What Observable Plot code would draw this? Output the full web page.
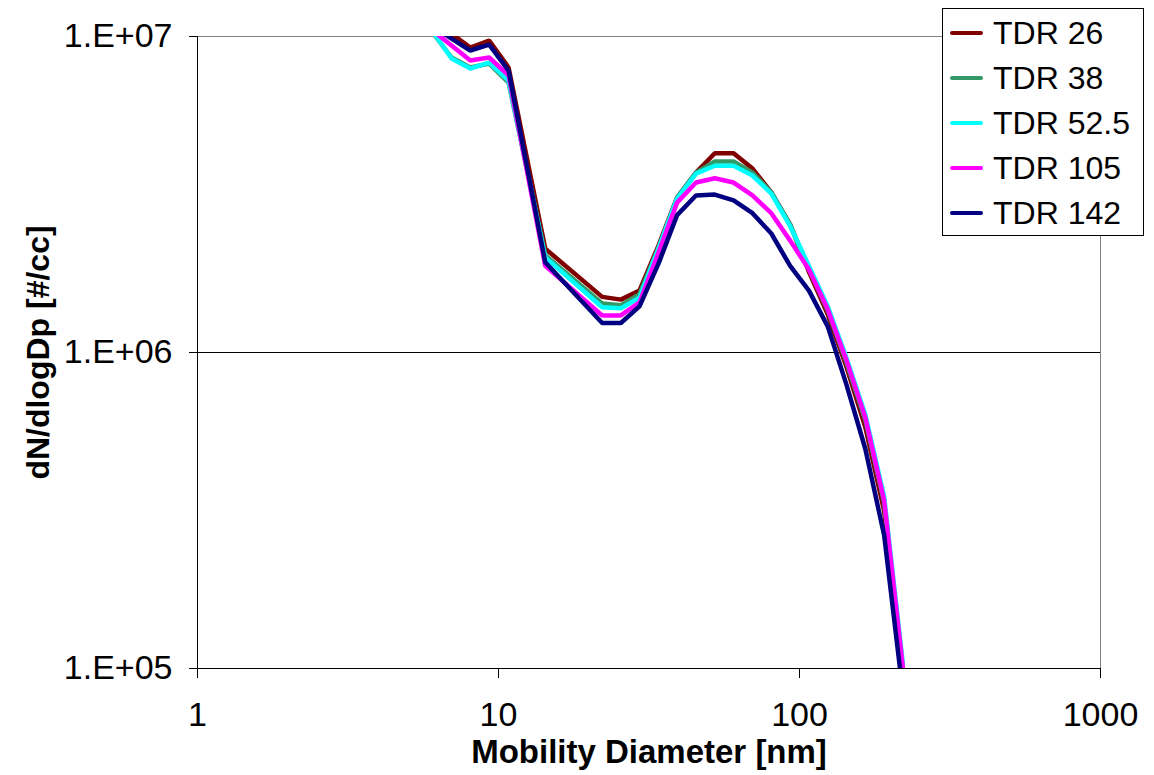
<!DOCTYPE html>
<html>
<head>
<meta charset="utf-8">
<script src="https://cdn.jsdelivr.net/npm/d3@7"></script>
<script src="https://cdn.jsdelivr.net/npm/@observablehq/plot@0.6"></script>
<style>
  body { margin: 0; background: #fff; font-family: "Liberation Sans", Arial, sans-serif; }
  #wrap { position: relative; width: 1154px; height: 775px; overflow: hidden; }
  #legend { position: absolute; left: 942px; top: 8px; width: 202px; height: 228px; border: 1px solid #000; background: #fff; box-sizing: border-box; }
  .row { position: absolute; left: 0; height: 40px; display: flex; align-items: center; }
  .sw { width: 33px; height: 4px; margin-left: 7px; margin-right: 10px; border-radius: 2px; }
  .lab { font-size: 32px; color: #000; white-space: nowrap; line-height: 40px; }
</style>
</head>
<body>
<div id="wrap"></div>
<script>
// Mobility diameter (nm)
const diameters = [6.04, 6.98, 8.06, 9.31, 10.8, 14.3, 22.1, 25.5, 29.4, 34.0, 39.2, 45.3, 52.3, 60.4, 69.8, 80.6, 93.1, 107.5, 124.1, 143.3, 165.5, 191.1, 220.7];

// dN/dlogDp [#/cc] per series
const tdr26  = [1.12e7, 1.02e7, 9.23e6, 9.71e6, 7.98e6, 2.13e6, 1.50e6, 1.47e6, 1.57e6, 2.18e6, 3.09e6, 3.71e6, 4.27e6, 4.27e6, 3.82e6, 3.21e6, 2.54e6, 1.80e6, 1.32e6, 9.0e5, 5.8e5, 3.15e5, 9.5e4];
const tdr38  = [1.03e7, 8.58e6, 7.98e6, 8.21e6, 7.15e6, 2.03e6, 1.43e6, 1.41e6, 1.53e6, 2.15e6, 3.09e6, 3.71e6, 4.02e6, 4.02e6, 3.71e6, 3.21e6, 2.54e6, 1.84e6, 1.36e6, 9.3e5, 6.1e5, 3.35e5, 9.8e4];
const tdr525 = [1.04e7, 8.52e6, 7.92e6, 8.27e6, 7.25e6, 2.00e6, 1.39e6, 1.38e6, 1.49e6, 2.13e6, 3.07e6, 3.68e6, 3.90e6, 3.90e6, 3.63e6, 3.18e6, 2.51e6, 1.88e6, 1.40e6, 9.6e5, 6.35e5, 3.50e5, 1.03e5];
const tdr105 = [1.045e7, 9.37e6, 8.39e6, 8.58e6, 7.53e6, 1.88e6, 1.31e6, 1.31e6, 1.44e6, 2.07e6, 2.98e6, 3.45e6, 3.56e6, 3.45e6, 3.14e6, 2.76e6, 2.26e6, 1.83e6, 1.37e6, 9.44e5, 6.22e5, 3.40e5, 1.0e5];
const tdr142 = [1.08e7, 9.85e6, 9.03e6, 9.43e6, 7.80e6, 1.93e6, 1.24e6, 1.24e6, 1.40e6, 1.91e6, 2.72e6, 3.14e6, 3.16e6, 3.03e6, 2.76e6, 2.38e6, 1.88e6, 1.57e6, 1.21e6, 7.9e5, 4.95e5, 2.64e5, 8.34e4];

const seriesNames = ["TDR 26", "TDR 38", "TDR 52.5", "TDR 105", "TDR 142"];
const seriesValues = [tdr26, tdr38, tdr525, tdr105, tdr142];
const seriesColors = ["#800000", "#339966", "#00FFFF", "#FF00FF", "#000080"];

const xTicks = [1, 10, 100, 1000];
const xTickLabels = ["1", "10", "100", "1000"];
const yTicks = [1e5, 1e6, 1e7];
const yTickLabels = ["1.E+05", "1.E+06", "1.E+07"];

const xTitle = "Mobility Diameter [nm]";
const yTitle = "dN/dlogDp [#/cc]";

const rows = [];
seriesNames.forEach((name, i) => {
  diameters.forEach((d, j) => rows.push({series: name, d, v: seriesValues[i][j]}));
});

const font = "'Liberation Sans', Arial, sans-serif";

const chart = Plot.plot({
  width: 1154,
  height: 775,
  marginLeft: 197,
  marginRight: 54,
  marginTop: 36,
  marginBottom: 107,
  x: {type: "log", domain: [1, 1000]},
  y: {type: "log", domain: [1e5, 1e7]},
  color: {domain: seriesNames, range: seriesColors},
  style: {fontFamily: font, fontSize: "34px", color: "#000", background: "#fff", overflow: "visible"},
  marks: [
    Plot.frame({stroke: "#808080"}),
    Plot.ruleY([1e6], {stroke: "#000", strokeWidth: 1}),
    Plot.line(rows, {x: "d", y: "v", z: "series", stroke: "series", strokeWidth: 4.5, clip: true, strokeLinejoin: "miter"}),
    Plot.ruleX([1], {stroke: "#000", strokeWidth: 1}),
    Plot.ruleY([1e5], {stroke: "#000", strokeWidth: 1}),
    Plot.axisX({ticks: xTicks, tickFormat: (d) => xTickLabels[xTicks.indexOf(d)], tickSize: 10, tickPadding: 23, label: null, fontSize: 34, stroke: "#000"}),
    Plot.axisY({ticks: yTicks, tickFormat: (d) => yTickLabels[yTicks.indexOf(d)], tickSize: 8, tickPadding: 17, label: null, fontSize: 34, stroke: "#000"}),
    Plot.text([xTitle], {frameAnchor: "bottom", dy: 84, text: (d) => d, fontWeight: "bold", fontSize: 33, lineAnchor: "middle", textAnchor: "middle", fill: "#000"}),
    Plot.text([yTitle], {frameAnchor: "left", dx: -159, text: (d) => d, rotate: -90, fontWeight: "bold", fontSize: 32, lineAnchor: "middle", textAnchor: "middle", fill: "#000"})
  ]
});

const wrap = document.getElementById("wrap");
wrap.appendChild(chart);

// Legend (overlaid inside the chart at top right)
const legend = document.createElement("div");
legend.id = "legend";
seriesNames.forEach((name, i) => {
  const row = document.createElement("div");
  row.className = "row";
  row.style.top = (4 + i * 45) + "px";
  const sw = document.createElement("div");
  sw.className = "sw";
  sw.style.background = seriesColors[i];
  const lab = document.createElement("span");
  lab.className = "lab";
  lab.textContent = name;
  row.appendChild(sw);
  row.appendChild(lab);
  legend.appendChild(row);
});
wrap.appendChild(legend);
</script>
</body>
</html>
